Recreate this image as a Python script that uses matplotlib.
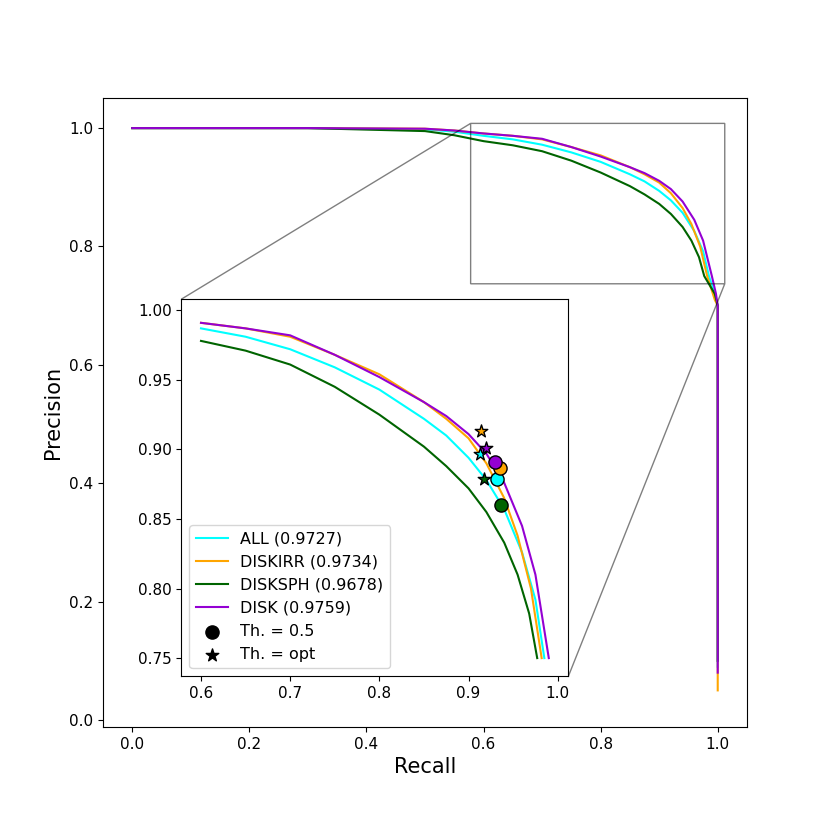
import matplotlib
matplotlib.use("Agg")
import matplotlib.pyplot as plt

names = ["ALL (0.9727)", "DISKIRR (0.9734)", "DISKSPH (0.9678)", "DISK (0.9759)"]
colors = ["cyan", "orange", "darkgreen", "darkviolet"]

recall_all = [0.0, 0.3, 0.5, 0.55, 0.6, 0.65, 0.7, 0.75, 0.8, 0.85, 0.875, 0.9, 0.92, 0.94, 0.96, 0.975, 0.985, 0.995, 1.0, 1.0]
prec_all = [1.0, 1.0, 0.998, 0.994, 0.987, 0.981, 0.972, 0.959, 0.943, 0.922, 0.91, 0.894, 0.878, 0.857, 0.826, 0.792, 0.75, 0.72, 0.70, 0.09]
recall_irr = [0.0, 0.3, 0.5, 0.55, 0.6, 0.65, 0.7, 0.75, 0.8, 0.85, 0.875, 0.9, 0.92, 0.94, 0.955, 0.97, 0.982, 0.995, 1.0, 1.0]
prec_irr = [1.0, 1.0, 0.999, 0.996, 0.991, 0.987, 0.981, 0.968, 0.954, 0.934, 0.922, 0.908, 0.89, 0.865, 0.838, 0.8, 0.75, 0.71, 0.70, 0.05]
recall_sph = [0.0, 0.3, 0.5, 0.55, 0.6, 0.65, 0.7, 0.75, 0.8, 0.85, 0.875, 0.9, 0.92, 0.94, 0.955, 0.968, 0.977, 0.995, 1.0, 1.0]
prec_sph = [1.0, 1.0, 0.995, 0.988, 0.978, 0.971, 0.961, 0.945, 0.925, 0.902, 0.888, 0.872, 0.855, 0.833, 0.81, 0.782, 0.75, 0.72, 0.70, 0.10]
recall_disk = [0.0, 0.3, 0.5, 0.55, 0.6, 0.65, 0.7, 0.75, 0.8, 0.85, 0.875, 0.9, 0.92, 0.94, 0.96, 0.975, 0.99, 0.997, 1.0, 1.0]
prec_disk = [1.0, 1.0, 0.999, 0.996, 0.991, 0.987, 0.982, 0.968, 0.952, 0.934, 0.924, 0.911, 0.897, 0.876, 0.845, 0.81, 0.75, 0.72, 0.70, 0.08]
recalls = [recall_all, recall_irr, recall_sph, recall_disk]
precs = [prec_all, prec_irr, prec_sph, prec_disk]

th05_r = [0.932, 0.935, 0.936, 0.930]
th05_p = [0.879, 0.887, 0.860, 0.891]
opt_r = [0.913, 0.914, 0.917, 0.920]
opt_p = [0.897, 0.913, 0.879, 0.901]

fig, ax = plt.subplots(figsize=(8.3, 8.3), dpi=100)
fig.subplots_adjust(left=0.124, right=0.9, bottom=0.124, top=0.882)
for r, p, c in zip(recalls, precs, colors):
    ax.plot(r, p, color=c)
ax.set_xlim(-0.05, 1.05)
ax.set_ylim(-0.012, 1.051)
ax.set_xlabel("Recall", fontsize=15)
ax.set_ylabel("Precision", fontsize=15)
ax.tick_params(labelsize=11)

axins = ax.inset_axes([0.084, 0.074, 0.661, 0.637], transform=ax.transData)
for r, p, c, n in zip(recalls, precs, colors, names):
    # inset only shows the part from recall 0.6 down to precision 0.75
    rr = [x for x, y in zip(r, p) if x >= 0.6 and y >= 0.75]
    pp = [y for x, y in zip(r, p) if x >= 0.6 and y >= 0.75]
    axins.plot(rr, pp, color=c, label=n)
for i in range(4):
    axins.scatter(th05_r[i], th05_p[i], color=colors[i], edgecolor="black", s=90, marker="o", zorder=3)
    axins.scatter(opt_r[i], opt_p[i], color=colors[i], edgecolor="black", s=90, marker="*", zorder=3)
axins.scatter([], [], color="black", marker="o", s=90, label="Th. = 0.5")
axins.scatter([], [], color="black", marker="*", s=90, label="Th. = opt")
axins.set_xlim(0.578, 1.012)
axins.set_ylim(0.737, 1.008)
axins.tick_params(labelsize=11)
axins.legend(loc="lower left", fontsize=11.5)
ax.indicate_inset_zoom(axins, edgecolor="black")

fig.savefig("out.png")
